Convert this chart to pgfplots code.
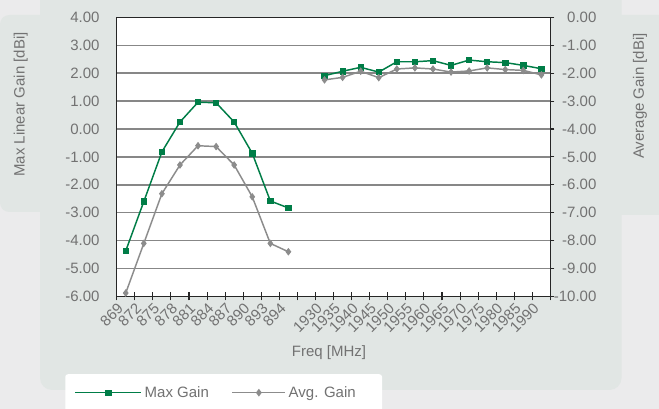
\documentclass[border=0pt]{standalone}
\usepackage{fontspec}
\setmainfont{Liberation Sans}
\usepackage{pgfplots}
\pgfplotsset{compat=1.18}
\definecolor{outerbg}{HTML}{EBEBEC}
\definecolor{panel}{HTML}{E1E6E4}
\definecolor{mgreen}{HTML}{007D47}
\definecolor{mgrey}{HTML}{8C8C8C}
\definecolor{txt}{HTML}{727272}
\definecolor{gridc}{HTML}{878787}
\newcommand{\lblfont}{\fontsize{11.25}{13}\selectfont}
\pgfplotsset{
  glegA/.style={legend image code/.code={\draw[mark repeat=2,mark phase=2,##1] plot coordinates {(0pt,0pt) (24.75pt,0pt) (49.5pt,0pt)};}},
  glegB/.style={legend image code/.code={\draw[mark repeat=2,mark phase=2,##1] plot coordinates {(0pt,0pt) (19.9pt,0pt) (39.75pt,0pt)};}},
  base/.style={
    at={(87.525pt,84.45pt)}, anchor=south west,
    scale only axis, width=325.3pt, height=209.25pt,
    xmin=0.5, xmax=24.5,
    unbounded coords=jump,
    tick label style={font=\lblfont, text=txt},
    /pgf/number format/.cd, fixed, fixed zerofill, precision=2, assume math mode=true,
  },
  gstyle/.style={mgreen, line width=1.1pt, mark=square*, mark size=2pt, mark options={solid, line width=0.6pt}},
  astyle/.style={mgrey, line width=1.1pt, mark=diamond*, mark size=2.4pt, mark options={solid, line width=0.6pt}},
}
\begin{document}
\begin{tikzpicture}
\useasboundingbox (0pt,0pt) rectangle (494.25pt,306.75pt);
\clip (0pt,0pt) rectangle (494.25pt,306.75pt);
\begin{scope}[x=0.75pt,y=0.75pt]
\fill[outerbg] (0,0) rectangle (659,409);
\fill[panel, rounded corners=7pt] (0,394) rectangle (70,197);
\fill[panel, rounded corners=7pt] (590,394) rectangle (690,194);
\fill[panel, rounded corners=9pt] (40,19) rectangle (621.5,440);
\end{scope}

\begin{axis}[base,
  ymin=-6, ymax=4,
  axis background/.style={fill=white},
  axis line style={black!85, line width=0.8pt},
  xtick={0.5,1.5,...,24.5},
  xticklabels={869,872,875,878,881,884,887,890,893,894,,1930,1935,1940,1945,1950,1955,1960,1965,1970,1975,1980,1985,1990,},
  xtick pos=left,
  x tick style={black!85, line width=0.8pt},
  xtick align=center,
  major tick length=6pt,
  xticklabel style={rotate=45, anchor=north east, inner sep=1pt},
  ytick={-6,-5,...,4},
  ytick pos=left,
  y tick style={draw=none},
  yticklabel style={xshift=-9.3pt},
  ymajorgrids,
  grid style={gridc, line width=1.1pt},
]
\addplot[gstyle] coordinates {
(1,-4.37) (2,-2.60) (3,-0.82) (4,0.25) (5,0.96) (6,0.94) (7,0.25) (8,-0.87) (9,-2.58) (10,-2.83)
(11,nan)
(12,1.91) (13,2.07) (14,2.21) (15,2.04) (16,2.41) (17,2.41) (18,2.45) (19,2.28) (20,2.47) (21,2.41) (22,2.38) (23,2.28) (24,2.16)
};
\end{axis}

\begin{axis}[base,
  ymin=-10, ymax=0,
  axis x line=none,
  axis y line*=right,
  axis line style={black!85, line width=0.8pt},
  ytick={-10,-9,...,0},
  y tick style={black!85, line width=0.8pt},
  ytick align=outside,
  major tick length=3pt,
  yticklabel style={anchor=east, xshift=35pt},
  legend style={at={(-0.1192,-0.278)}, anchor=north west, fill=white, draw=none,
    rounded corners=2pt, font=\lblfont, text=txt, inner xsep=7pt, inner ysep=7pt,
    /tikz/every even column/.append style={column sep=15pt}},
  legend columns=2,
  legend cell align=left,
]
\addlegendimage{gstyle, glegA}
\addlegendentry{Max Gain}
\addplot[astyle, glegB] coordinates {
(1,-9.88) (2,-8.10) (3,-6.32) (4,-5.29) (5,-4.60) (6,-4.63) (7,-5.29) (8,-6.43) (9,-8.10) (10,-8.40)
(11,nan)
(12,-2.24) (13,-2.15) (14,-1.93) (15,-2.16) (16,-1.85) (17,-1.81) (18,-1.85) (19,-1.96) (20,-1.92) (21,-1.81) (22,-1.87) (23,-1.90) (24,-2.06)
};
\addlegendentry{\makebox[61pt][l]{Avg. Gain}}
\end{axis}

\begin{scope}[x=0.75pt,y=0.75pt]
\node[rotate=90, text=txt, font=\lblfont] at (20.7,304.5) {Max Linear Gain [dBi]};
\node[rotate=90, text=txt, font=\lblfont] at (640,313) {Average Gain [dBi]};
\node[text=txt, font=\lblfont] at (329,56) {Freq [MHz]};
\end{scope}
\end{tikzpicture}
\end{document}
